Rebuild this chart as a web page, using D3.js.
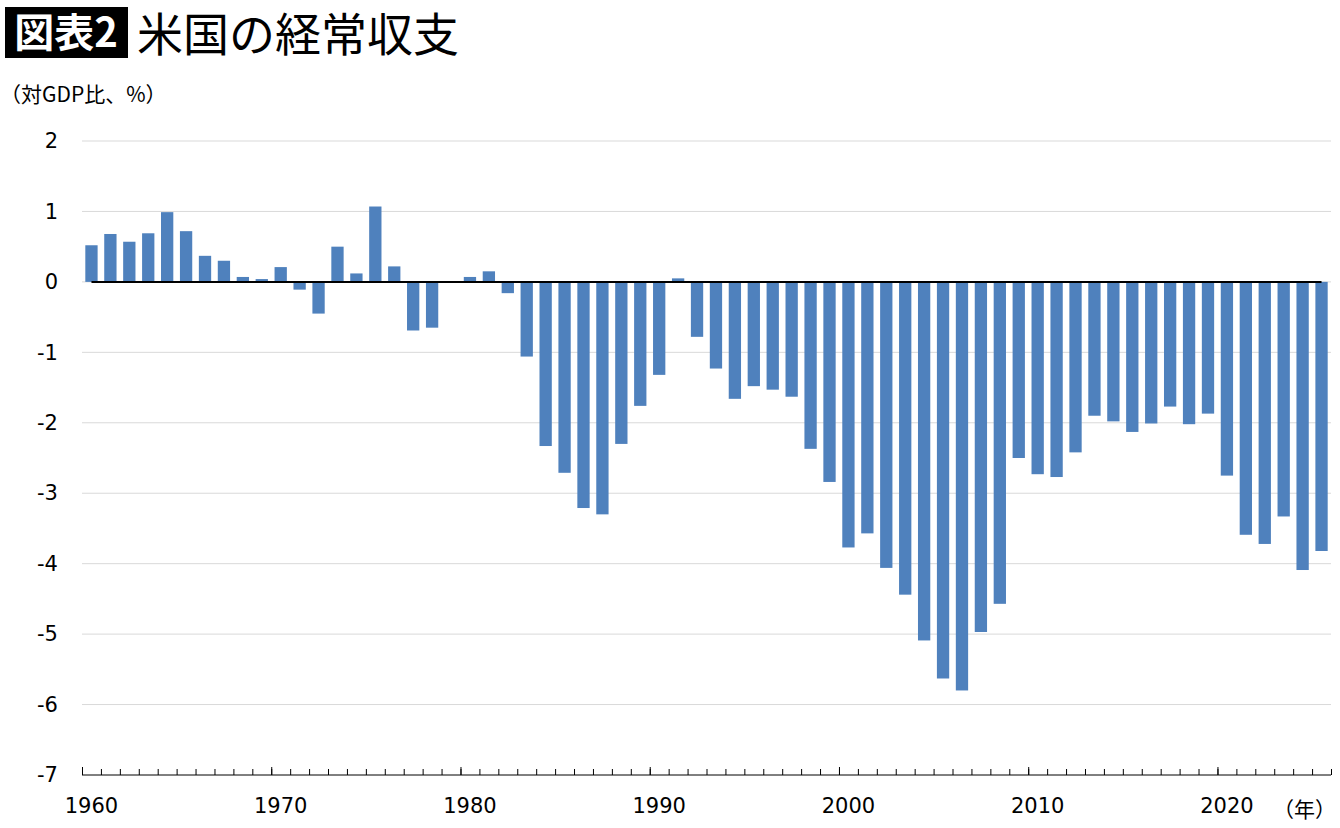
<!DOCTYPE html>
<html>
<head>
<meta charset="utf-8">
<script src="https://cdn.jsdelivr.net/npm/d3@7"></script>
<style>
  body { margin: 0; background: #fff; }
  svg { display: block; }
</style>
</head>
<body>
<div id="chart"></div>
<script>
// 米国の経常収支 (対GDP比, %), 1960-2025
var years = d3.range(1960, 2026);
var balance = [
  0.52, 0.68, 0.57, 0.69, 0.99, 0.72, 0.37, 0.30, 0.07, 0.04,   // 1960s
  0.21, -0.11, -0.45, 0.50, 0.12, 1.07, 0.22, -0.69, -0.65, 0.01, // 1970s
  0.07, 0.15, -0.16, -1.06, -2.33, -2.71, -3.21, -3.30, -2.30, -1.76, // 1980s
  -1.32, 0.05, -0.78, -1.23, -1.66, -1.48, -1.53, -1.63, -2.37, -2.84, // 1990s
  -3.77, -3.57, -4.06, -4.44, -5.09, -5.63, -5.80, -4.97, -4.57, -2.50, // 2000s
  -2.73, -2.77, -2.42, -1.90, -1.98, -2.13, -2.01, -1.77, -2.02, -1.87, // 2010s
  -2.75, -3.59, -3.72, -3.33, -4.09, -3.82  // 2020s
];
var yTicks = [2, 1, 0, -1, -2, -3, -4, -5, -6, -7];
var xLabels = [1960, 1970, 1980, 1990, 2000, 2010, 2020];

var W = 1340, H = 828;
// plot edges ("top" is taken by window.top, so prefix them)
var pLeft = 82, pRight = 1331, pTop = 141, pBottom = 775;
var barColor = "#4f81bd";
var numFont = "'DejaVu Sans', Verdana, sans-serif";
var jpFont = "'Noto Sans CJK JP', sans-serif";

var svg = d3.select("#chart").append("svg")
    .attr("width", W)
    .attr("height", H);

// title block
svg.append("rect")
    .attr("x", 5).attr("y", 7)
    .attr("width", 123).attr("height", 51)
    .attr("fill", "#000");
svg.append("text")
    .attr("x", 66).attr("y", 47)
    .attr("text-anchor", "middle")
    .attr("font-family", jpFont)
    .attr("font-size", 40)
    .attr("font-weight", 700)
    .attr("fill", "#fff")
    .text("図表2");
svg.append("text")
    .attr("x", 137).attr("y", 51)
    .attr("font-family", jpFont)
    .attr("font-size", 46)
    .attr("fill", "#000")
    .text("米国の経常収支");
svg.append("text")
    .attr("x", 0).attr("y", 102)
    .attr("font-family", jpFont)
    .attr("font-size", 21)
    .attr("fill", "#000")
    .text("（対GDP比、%）");

// scales
var x = d3.scaleBand()
    .domain(years)
    .range([pLeft, pRight])
    .paddingInner(0.35)
    .paddingOuter(0.175);

var y = d3.scaleLinear()
    .domain([-7, 2])
    .range([pBottom, pTop]);

// gridlines
svg.append("g")
    .selectAll("line")
    .data(yTicks.filter(d => d > -7))
    .enter()
    .append("line")
        .attr("x1", pLeft).attr("x2", pRight)
        .attr("y1", d => y(d)).attr("y2", d => y(d))
        .attr("stroke", "#d9d9d9")
        .attr("stroke-width", 1);

// y labels (plain hyphen for minus, like the original)
var yAxis = svg.append("g")
    .attr("transform", "translate(" + pLeft + ",0)")
    .call(d3.axisLeft(y).tickValues(yTicks).tickSize(0).tickPadding(24).tickFormat(d => String(d)));
yAxis.select(".domain").remove();
yAxis.selectAll("text")
    .attr("font-family", numFont)
    .attr("font-size", 21)
    .attr("fill", "#000");

// bars
svg.append("g")
    .selectAll("rect")
    .data(years)
    .enter()
    .append("rect")
        .attr("x", d => x(d))
        .attr("width", x.bandwidth())
        .attr("y", (d, i) => y(Math.max(0, balance[i])))
        .attr("height", (d, i) => Math.abs(y(balance[i]) - y(0)))
        .attr("fill", barColor);

// zero line, from first to last category centre
svg.append("line")
    .attr("x1", x(years[0]) + x.bandwidth() / 2)
    .attr("x2", x(years[years.length - 1]) + x.bandwidth() / 2)
    .attr("y1", y(0)).attr("y2", y(0))
    .attr("stroke", "#000")
    .attr("stroke-width", 2);

// category boundary ticks (pointing up, Excel style)
var edge = d3.scaleLinear().domain([0, years.length]).range([pLeft, pRight]);
var minor = svg.append("g")
    .attr("transform", "translate(0," + y(-7) + ")")
    .call(d3.axisTop(edge).tickValues(d3.range(0, years.length + 1)).tickSize(6).tickFormat(""));
minor.selectAll("line").attr("stroke", "#000");
minor.select(".domain").attr("stroke", "#000").attr("d", "M" + pLeft + ",0H" + pRight);
var major = svg.append("g")
    .attr("transform", "translate(0," + y(-7) + ")")
    .call(d3.axisTop(edge).tickValues(d3.range(0, years.length + 1, 10)).tickSize(8).tickFormat(""));
major.selectAll("line").attr("stroke", "#000");
major.select(".domain").remove();

// year labels at category centres
var xAxis = svg.append("g")
    .attr("transform", "translate(0," + y(-7) + ")")
    .call(d3.axisBottom(x).tickValues(xLabels).tickSize(0).tickPadding(23));
xAxis.select(".domain").remove();
xAxis.selectAll("text")
    .attr("font-family", numFont)
    .attr("font-size", 21)
    .attr("fill", "#000");

svg.append("text")
    .attr("x", 1336).attr("y", 817)
    .attr("text-anchor", "end")
    .attr("font-family", jpFont)
    .attr("font-size", 21)
    .attr("fill", "#000")
    .text("（年）");
</script>
</body>
</html>
